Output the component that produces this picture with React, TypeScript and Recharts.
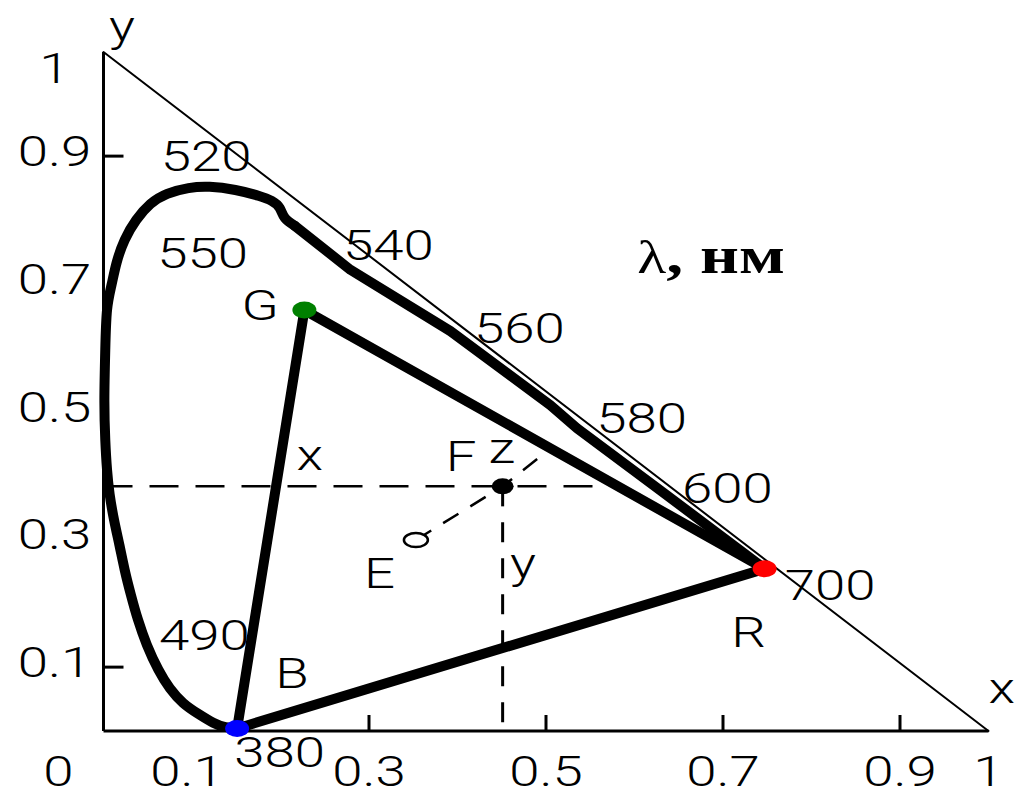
import {
  ComposedChart,
  Line,
  ReferenceDot,
  Scatter,
  XAxis,
  YAxis,
} from "recharts";

// y axis runs a little past 1 so the x + y = 1 line starts at its tip
const Y_TOP = 1.063;

const X_TICKS = [0, 0.1, 0.3, 0.5, 0.7, 0.9, 1];
const Y_TICKS = [0.1, 0.3, 0.5, 0.7, 0.9, 1];
const X_MARKED = [0.3, 0.5, 0.7, 0.9];
const Y_MARKED = [0.1, 0.9];

// spectral locus, 380 nm up the short-wave side and over the top to ~540 nm
const LOCUS_CURVE = [
  { x: 0.151, y: 0.005 },
  { x: 0.138, y: 0.006 },
  { x: 0.124, y: 0.013 },
  { x: 0.107, y: 0.027 },
  { x: 0.09, y: 0.044 },
  { x: 0.075, y: 0.067 },
  { x: 0.062, y: 0.096 },
  { x: 0.049, y: 0.135 },
  { x: 0.039, y: 0.174 },
  { x: 0.031, y: 0.213 },
  { x: 0.024, y: 0.252 },
  { x: 0.018, y: 0.291 },
  { x: 0.012, y: 0.33 },
  { x: 0.007, y: 0.37 },
  { x: 0.004, y: 0.409 },
  { x: 0.002, y: 0.456 },
  { x: 0.001, y: 0.518 },
  { x: 0.002, y: 0.597 },
  { x: 0.004, y: 0.659 },
  { x: 0.009, y: 0.698 },
  { x: 0.015, y: 0.734 },
  { x: 0.024, y: 0.769 },
  { x: 0.037, y: 0.8 },
  { x: 0.053, y: 0.825 },
  { x: 0.072, y: 0.841 },
  { x: 0.096, y: 0.85 },
  { x: 0.12, y: 0.852 },
  { x: 0.149, y: 0.847 },
  { x: 0.175, y: 0.838 },
  { x: 0.19, y: 0.83 },
  { x: 0.199, y: 0.819 },
  { x: 0.205, y: 0.803 },
  { x: 0.216, y: 0.791 },
];

// long-wave edge of the locus, ~540 nm down to 700 nm
const LOCUS_EDGE = [
  { x: 0.216, y: 0.791 },
  { x: 0.279, y: 0.722 },
  { x: 0.392, y: 0.626 },
  { x: 0.505, y: 0.51 },
  { x: 0.535, y: 0.474 },
  { x: 0.629, y: 0.377 },
  { x: 0.747, y: 0.254 },
];

const PRIMARIES = [
  { name: "R", x: 0.747, y: 0.254, color: "#ff0000" },
  { name: "G", x: 0.227, y: 0.659, color: "#008000" },
  { name: "B", x: 0.151, y: 0.004, color: "#0000ff" },
];

const TRIANGLE = [PRIMARIES[2], PRIMARIES[1], PRIMARIES[0], PRIMARIES[2]];

const WHITE_E = [{ x: 0.353, y: 0.299 }];
const COLOUR_F = [{ x: 0.451, y: 0.383 }];
const Z_END = { x: 0.493, y: 0.429 };

const X_GUIDE = [
  { x: 0, y: 0.383 },
  { x: 0.555, y: 0.383 },
];
const Y_GUIDE = [
  { x: 0.451, y: 0.383 },
  { x: 0.451, y: 0 },
];
const MIX_LINE = [WHITE_E[0], COLOUR_F[0], Z_END];
const UNIT_LINE = [
  { x: 0, y: Y_TOP },
  { x: 1, y: 0 },
];

// wavelength marks along the locus, nm
const WAVELENGTHS = [
  { text: "520", x: 0.116, y: 0.877 },
  { text: "550", x: 0.112, y: 0.725 },
  { text: "540", x: 0.322, y: 0.737 },
  { text: "560", x: 0.47, y: 0.607 },
  { text: "580", x: 0.608, y: 0.467 },
  { text: "600", x: 0.705, y: 0.357 },
  { text: "700", x: 0.821, y: 0.205 },
  { text: "490", x: 0.114, y: 0.127 },
  { text: "380", x: 0.199, y: -0.056 },
];

const LETTERS = [
  { text: "G", x: 0.177, y: 0.644 },
  { text: "B", x: 0.213, y: 0.067 },
  { text: "R", x: 0.729, y: 0.132 },
  { text: "E", x: 0.312, y: 0.224 },
  { text: "F", x: 0.404, y: 0.407 },
  { text: "z", x: 0.45, y: 0.42 },
  { text: "x", x: 0.233, y: 0.409 },
  { text: "y", x: 0.474, y: 0.24 },
  { text: "y", x: 0.021, y: 1.081 },
  { text: "x", x: 1.015, y: 0.044 },
];

const UNIT_LABEL = { x: 0.603, y: 0.717 };

const SANS = "Roboto, 'Liberation Sans', Arial, sans-serif";
const SERIF = "'Liberation Serif', 'Times New Roman', serif";

// the whole drawing is set in a horizontally widened face
function Wide({ x, y, anchor = "middle", children }: any) {
  return (
    <text
      transform={`translate(${x},${y}) scale(1.3,1)`}
      textAnchor={anchor}
      fontFamily={SANS}
      fontWeight={300}
      fontSize={42}
      fill="#000"
    >
      {children}
    </text>
  );
}

function XTick({ x, y, payload }: any) {
  const v = payload.value;
  const shift = v === 0 ? -45 : v === 0.1 ? -5 : 0;
  return (
    <g>
      {X_MARKED.includes(v) && (
        <line x1={x} x2={x} y1={y} y2={y - 16} stroke="#000" strokeWidth={3} />
      )}
      <Wide x={x + shift} y={y + 55}>
        {String(v)}
      </Wide>
    </g>
  );
}

function YTick({ x, y, payload }: any) {
  const v = payload.value;
  return (
    <g>
      {Y_MARKED.includes(v) && (
        <line x1={x} x2={x + 20} y1={y} y2={y} stroke="#000" strokeWidth={3} />
      )}
      <Wide x={x - 49} y={v === 1 ? y - 9 : y + 10}>
        {String(v)}
      </Wide>
    </g>
  );
}

const PrimaryDot = ({ cx, cy, payload }: any) => (
  <ellipse cx={cx} cy={cy} rx={12} ry={8.5} fill={payload.color} />
);
const SolidDot = ({ cx, cy }: any) => (
  <ellipse cx={cx} cy={cy} rx={11} ry={8} fill="#000" />
);
const OpenDot = ({ cx, cy }: any) => (
  <ellipse cx={cx} cy={cy} rx={12} ry={7} fill="#fff" stroke="#000" strokeWidth={2.5} />
);

const thick = {
  dataKey: "y",
  stroke: "#000",
  strokeWidth: 10,
  strokeLinejoin: "round" as const,
  strokeLinecap: "round" as const,
  dot: false,
  activeDot: false,
  isAnimationActive: false,
};

export default function App() {
  return (
    <div
      style={{
        position: "absolute",
        left: 0,
        top: 0,
        width: 1017,
        height: 797,
        background: "#fff",
      }}
    >
      <ComposedChart
        width={1017}
        height={797}
        margin={{ top: 52, right: 28.5, bottom: 36, left: 43.5 }}
      >
        <XAxis
          type="number"
          dataKey="x"
          domain={[0, 1]}
          ticks={X_TICKS}
          interval={0}
          tick={XTick}
          tickLine={false}
          tickSize={0}
          tickMargin={0}
          axisLine={{ stroke: "#000", strokeWidth: 3 }}
          height={30}
        />
        <YAxis
          type="number"
          dataKey="y"
          domain={[0, Y_TOP]}
          ticks={Y_TICKS}
          interval={0}
          tick={YTick}
          tickLine={false}
          tickSize={0}
          tickMargin={0}
          axisLine={{ stroke: "#000", strokeWidth: 3 }}
          width={60}
        />

        <Line {...thick} data={UNIT_LINE} type="linear" strokeWidth={2} />
        <Line
          {...thick}
          data={X_GUIDE}
          type="linear"
          strokeWidth={2.5}
          strokeLinecap="butt"
          strokeDasharray="29 17"
        />
        <Line
          {...thick}
          data={Y_GUIDE}
          type="linear"
          strokeWidth={3}
          strokeLinecap="butt"
          strokeDasharray="20 16"
        />
        <Line
          {...thick}
          data={MIX_LINE}
          type="linear"
          strokeWidth={2.5}
          strokeLinecap="butt"
          strokeDasharray="18 14"
        />

        <Line {...thick} data={LOCUS_CURVE} type="natural" />
        <Line {...thick} data={LOCUS_EDGE} type="linear" />
        <Line {...thick} data={TRIANGLE} type="linear" />

        <Scatter data={WHITE_E} dataKey="y" shape={OpenDot} isAnimationActive={false} />
        <Scatter data={COLOUR_F} dataKey="y" shape={SolidDot} isAnimationActive={false} />
        <Scatter data={PRIMARIES} dataKey="y" shape={PrimaryDot} isAnimationActive={false} />

        {[...WAVELENGTHS, ...LETTERS].map((l, i) => (
          <ReferenceDot
            key={i}
            x={l.x}
            y={l.y}
            r={0}
            ifOverflow="visible"
            shape={(p: any) => (
              <Wide x={p.cx} y={p.cy}>
                {l.text}
              </Wide>
            )}
          />
        ))}

        <ReferenceDot
          x={UNIT_LABEL.x}
          y={UNIT_LABEL.y}
          r={0}
          ifOverflow="visible"
          shape={(p: any) => (
            <text
              transform={`translate(${p.cx},${p.cy}) scale(1.3,1)`}
              fontFamily={SERIF}
              fill="#000"
            >
              <tspan fontSize={46}>λ</tspan>
              <tspan fontSize={52} fontWeight="bold">
                , нм
              </tspan>
            </text>
          )}
        />
      </ComposedChart>
    </div>
  );
}
